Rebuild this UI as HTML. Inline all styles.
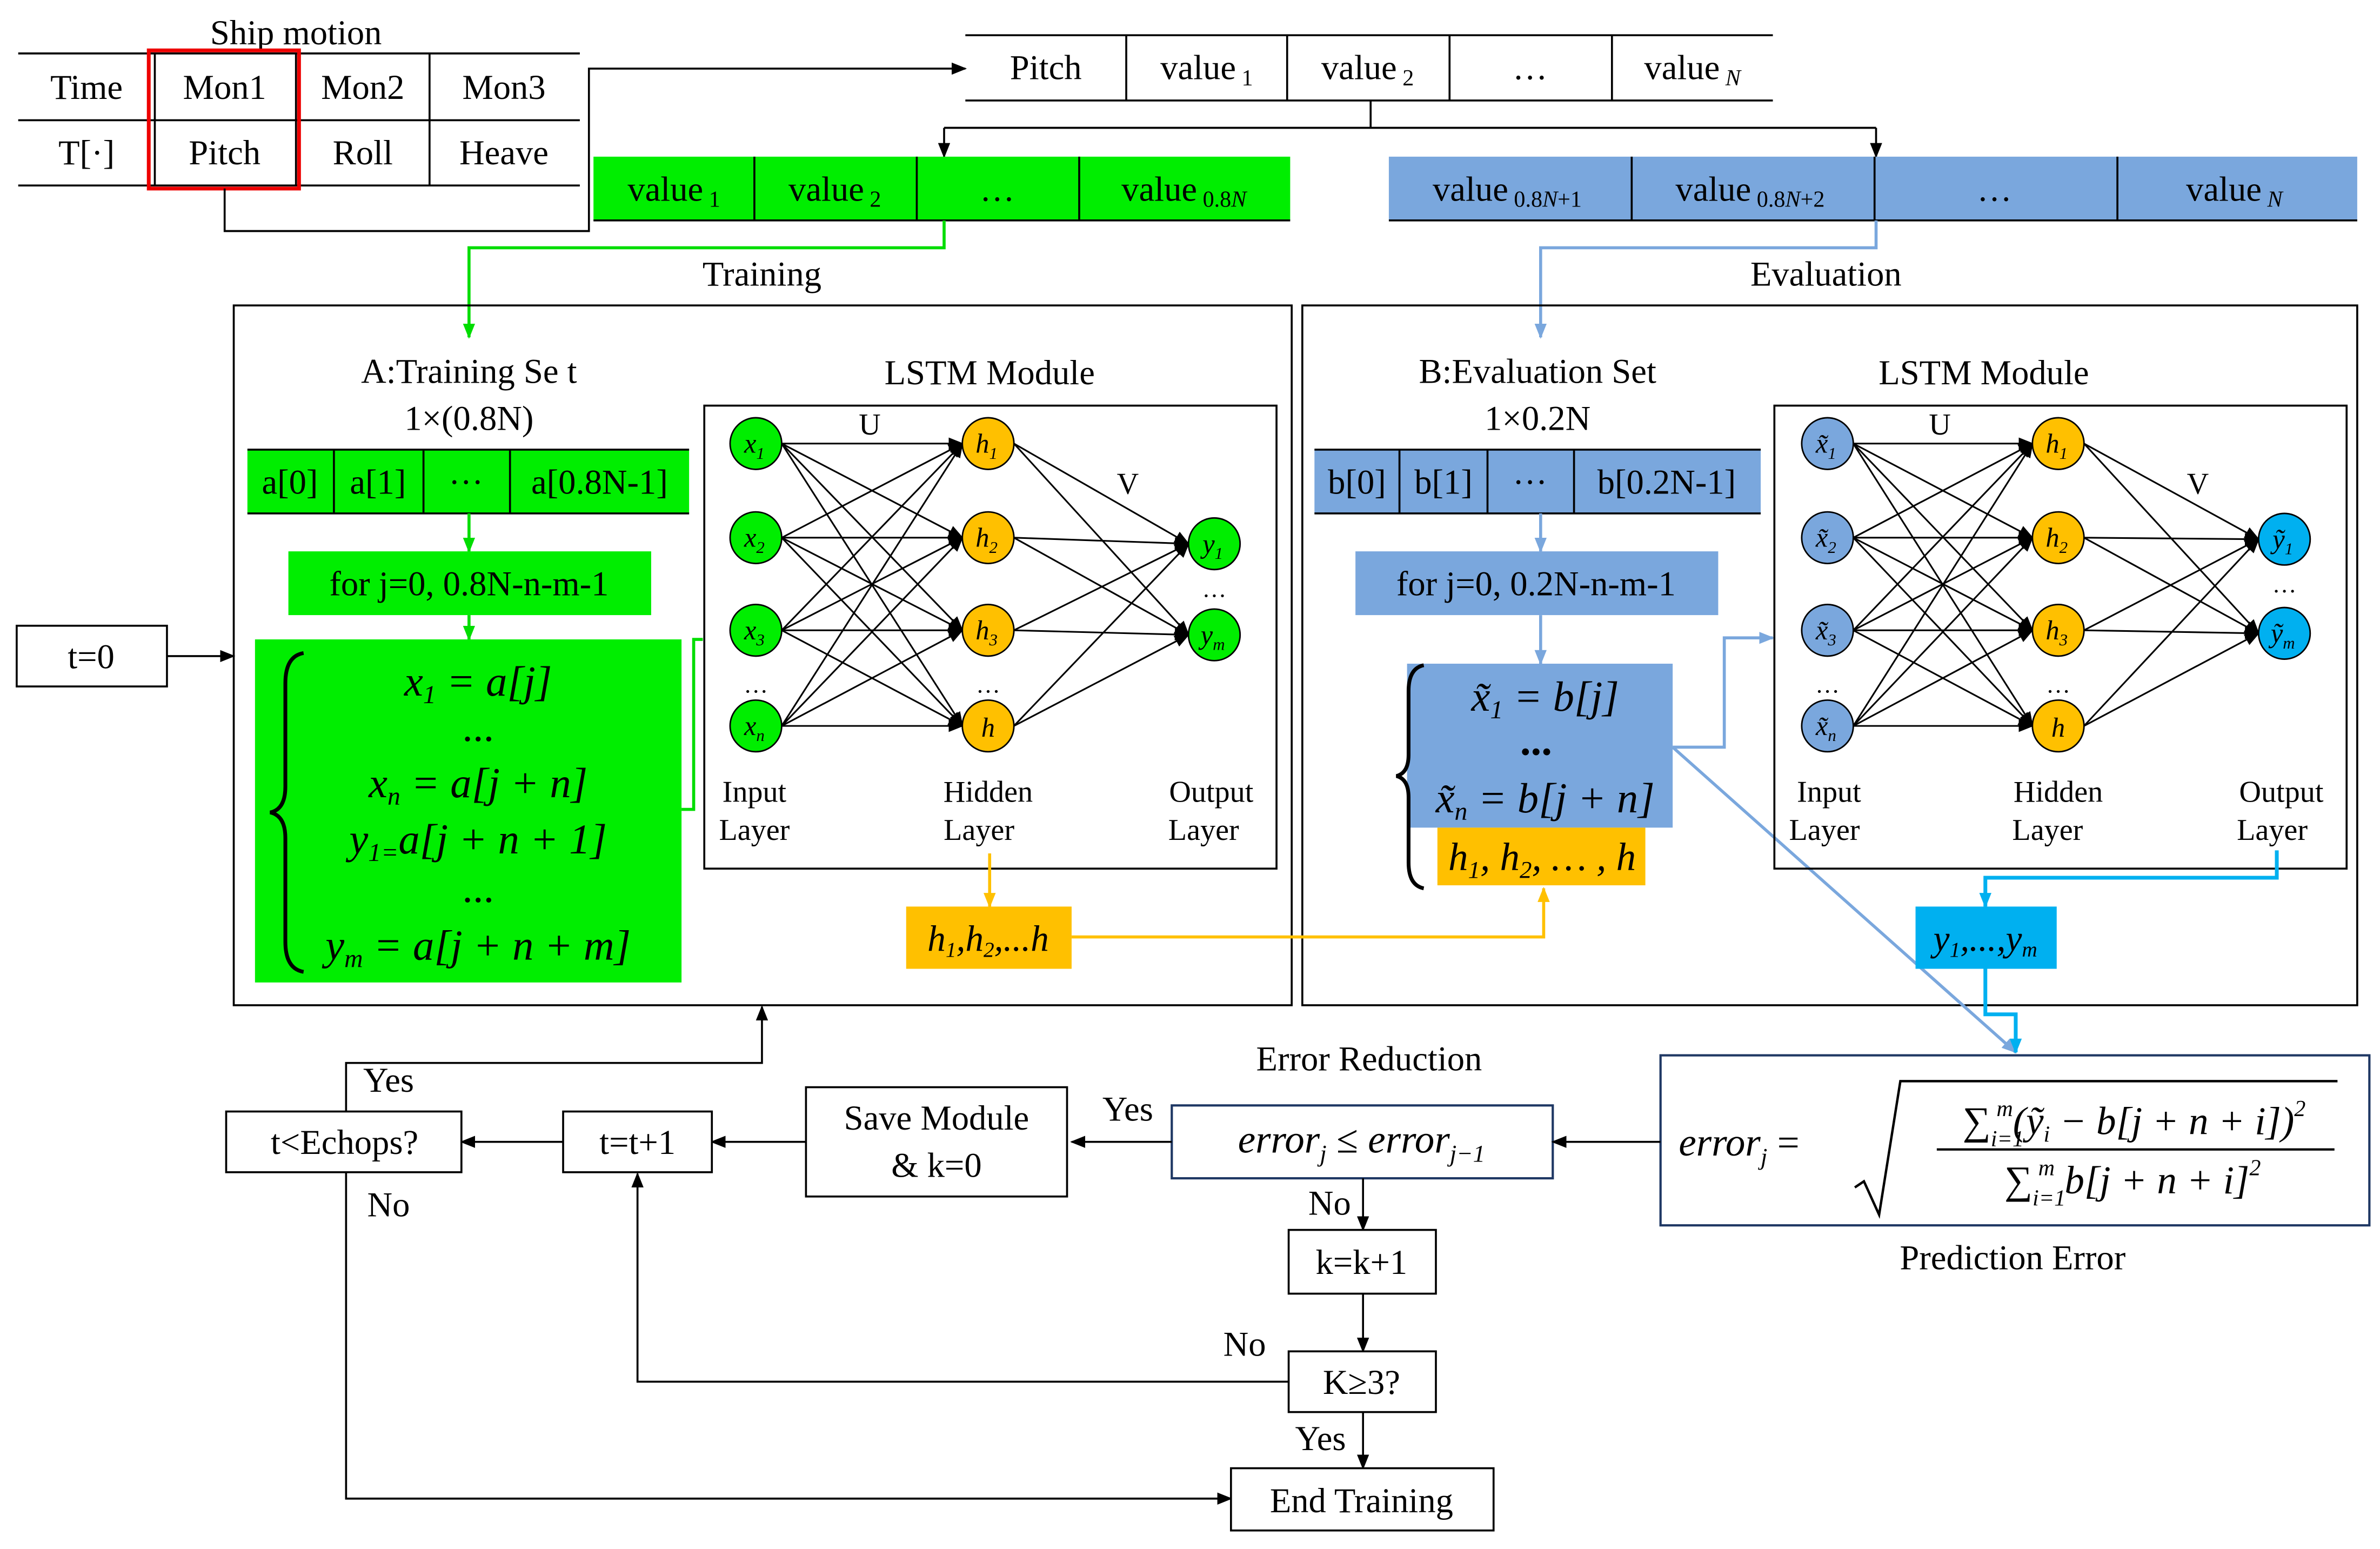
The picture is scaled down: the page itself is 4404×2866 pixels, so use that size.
<!DOCTYPE html>
<html><head><meta charset="utf-8"><style>
html,body{margin:0;padding:0;background:#fff}
svg{display:block}
text{font-family:"Liberation Serif",serif;fill:#000}
.m{font-style:italic}
</style></head><body>
<svg width="4404" height="2866" viewBox="0 0 1568 1020" xmlns="http://www.w3.org/2000/svg">
<defs>
<marker id="ak" markerWidth="10" markerHeight="8" refX="9" refY="4" orient="auto" markerUnits="userSpaceOnUse"><path d="M0,0 L10,4 L0,8 z" fill="#000"/></marker>
<marker id="ag" markerWidth="10" markerHeight="8" refX="9" refY="4" orient="auto" markerUnits="userSpaceOnUse"><path d="M0,0 L10,4 L0,8 z" fill="#00dd00"/></marker>
<marker id="ab" markerWidth="10" markerHeight="8" refX="9" refY="4" orient="auto" markerUnits="userSpaceOnUse"><path d="M0,0 L10,4 L0,8 z" fill="#7aa7dd"/></marker>
<marker id="ao" markerWidth="10" markerHeight="8" refX="9" refY="4" orient="auto" markerUnits="userSpaceOnUse"><path d="M0,0 L10,4 L0,8 z" fill="#ffc000"/></marker>
<marker id="ac" markerWidth="10" markerHeight="8" refX="9" refY="4" orient="auto" markerUnits="userSpaceOnUse"><path d="M0,0 L10,4 L0,8 z" fill="#00b0f0"/></marker>
</defs>
<g font-size="23">
<!-- Ship motion table -->
<text x="195" y="29" text-anchor="middle">Ship motion</text>
<g stroke="#000" stroke-width="1.3" fill="none">
<line x1="12" y1="35" x2="382" y2="35"/><line x1="12" y1="79" x2="382" y2="79"/><line x1="12" y1="122" x2="382" y2="122"/>
<line x1="102" y1="35" x2="102" y2="122"/><line x1="195" y1="35" x2="195" y2="122"/><line x1="283" y1="35" x2="283" y2="122"/>
</g>
<rect x="98" y="33" width="99" height="91" fill="none" stroke="#e00" stroke-width="2.5"/>
<text x="57" y="65" text-anchor="middle">Time</text><text x="148" y="65" text-anchor="middle">Mon1</text><text x="239" y="65" text-anchor="middle">Mon2</text><text x="332" y="65" text-anchor="middle">Mon3</text>
<text x="57" y="108" text-anchor="middle">T[·]</text><text x="148" y="108" text-anchor="middle">Pitch</text><text x="239" y="108" text-anchor="middle">Roll</text><text x="332" y="108" text-anchor="middle">Heave</text>
<polyline points="148,124 148,152 388,152 388,45 636,45" fill="none" stroke="#000" stroke-width="1.3" marker-end="url(#ak)"/>
<!-- pitch table -->
<g stroke="#000" stroke-width="1.3"><line x1="636" y1="23" x2="1168" y2="23"/><line x1="636" y1="66" x2="1168" y2="66"/>
<line x1="742" y1="23" x2="742" y2="66"/><line x1="848" y1="23" x2="848" y2="66"/><line x1="955" y1="23" x2="955" y2="66"/><line x1="1062" y1="23" x2="1062" y2="66"/></g>
<text x="689" y="52" text-anchor="middle">Pitch</text>
<text x="795" y="52" text-anchor="middle">value<tspan font-size="15" dy="4"> 1</tspan></text>
<text x="901" y="52" text-anchor="middle">value<tspan font-size="15" dy="4"> 2</tspan></text>
<text x="1008" y="52" text-anchor="middle">…</text>
<text x="1115" y="52" text-anchor="middle">value<tspan font-size="15" dy="4" class="m"> N</tspan></text>
<g fill="none" stroke="#000" stroke-width="1.3"><line x1="903" y1="66" x2="903" y2="84"/><line x1="622" y1="84" x2="1236" y2="84"/>
<line x1="622" y1="84" x2="622" y2="103" marker-end="url(#ak)"/><line x1="1236" y1="84" x2="1236" y2="103" marker-end="url(#ak)"/></g>
<!-- green bar -->
<rect x="391" y="103" width="459" height="42" fill="#00ee00"/>
<g stroke="#000" stroke-width="1.3"><line x1="391" y1="145" x2="850" y2="145"/><line x1="497" y1="103" x2="497" y2="145"/><line x1="604" y1="103" x2="604" y2="145"/><line x1="711" y1="103" x2="711" y2="145"/></g>
<text x="444" y="132" text-anchor="middle">value<tspan font-size="15" dy="4"> 1</tspan></text>
<text x="550" y="132" text-anchor="middle">value<tspan font-size="15" dy="4"> 2</tspan></text>
<text x="657" y="132" text-anchor="middle">…</text>
<text x="780" y="132" text-anchor="middle">value<tspan font-size="15" dy="4"> 0.8<tspan class="m">N</tspan></tspan></text>
<!-- blue bar -->
<rect x="915" y="103" width="638" height="42" fill="#7aa7dd"/>
<g stroke="#000" stroke-width="1.3"><line x1="915" y1="145" x2="1553" y2="145"/><line x1="1075" y1="103" x2="1075" y2="145"/><line x1="1235" y1="103" x2="1235" y2="145"/><line x1="1395" y1="103" x2="1395" y2="145"/></g>
<text x="993" y="132" text-anchor="middle">value<tspan font-size="15" dy="4"> 0.8<tspan class="m">N</tspan>+1</tspan></text>
<text x="1153" y="132" text-anchor="middle">value<tspan font-size="15" dy="4"> 0.8<tspan class="m">N</tspan>+2</tspan></text>
<text x="1314" y="132" text-anchor="middle">…</text>
<text x="1472" y="132" text-anchor="middle">value<tspan font-size="15" dy="4" class="m"> N</tspan></text>
<polyline points="622,145 622,163 309,163 309,222" fill="none" stroke="#00dd00" stroke-width="2" marker-end="url(#ag)"/>
<polyline points="1236,145 1236,163 1015,163 1015,222" fill="none" stroke="#7aa7dd" stroke-width="2" marker-end="url(#ab)"/>
<text x="502" y="188" text-anchor="middle">Training</text>
<text x="1203" y="188" text-anchor="middle">Evaluation</text>
<!-- big boxes -->
<rect x="154" y="201" width="697" height="461" fill="none" stroke="#000" stroke-width="1.3"/>
<rect x="858" y="201" width="695" height="461" fill="none" stroke="#000" stroke-width="1.3"/>
<!-- left content -->
<text x="309" y="252" text-anchor="middle">A:Training Se t</text>
<text x="309" y="283" text-anchor="middle">1×(0.8N)</text>
<rect x="163" y="296" width="291" height="42" fill="#00ee00"/>
<g stroke="#000" stroke-width="1.3"><line x1="163" y1="296" x2="454" y2="296"/><line x1="163" y1="338" x2="454" y2="338"/><line x1="220" y1="296" x2="220" y2="338"/><line x1="279" y1="296" x2="279" y2="338"/><line x1="336" y1="296" x2="336" y2="338"/></g>
<text x="191" y="325" text-anchor="middle">a[0]</text><text x="249" y="325" text-anchor="middle">a[1]</text><text x="307" y="325" text-anchor="middle">···</text><text x="395" y="325" text-anchor="middle">a[0.8N-1]</text>
<line x1="309" y1="338" x2="309" y2="363" stroke="#00dd00" stroke-width="2" marker-end="url(#ag)"/>
<rect x="190" y="363" width="239" height="42" fill="#00ee00"/>
<text x="309" y="392" text-anchor="middle">for j=0, 0.8N-n-m-1</text>
<line x1="309" y1="405" x2="309" y2="421" stroke="#00dd00" stroke-width="2" marker-end="url(#ag)"/>
<rect x="168" y="421" width="281" height="226" fill="#00ee00"/>
<path d="M200,430 Q188,432 188,450 L188,518 Q188,533 178,535 Q188,537 188,552 L188,620 Q188,638 200,640" fill="none" stroke="#000" stroke-width="2.5"/>
<g font-size="28" class="m" text-anchor="middle">
<text x="315" y="458">x<tspan font-size="17" dy="5">1</tspan><tspan dy="-5"> = a[j]</tspan></text>
<text x="315" y="488" font-style="normal">...</text>
<text x="315" y="525">x<tspan font-size="17" dy="5">n</tspan><tspan dy="-5"> = a[j + n]</tspan></text>
<text x="315" y="562">y<tspan font-size="17" dy="5">1=</tspan><tspan dy="-5">a[j + n + 1]</tspan></text>
<text x="315" y="594" font-style="normal">...</text>
<text x="315" y="632">y<tspan font-size="17" dy="5">m</tspan><tspan dy="-5"> = a[j + n + m]</tspan></text>
</g>
<polyline points="449,533 457,533 457,421 463,421" fill="none" stroke="#00dd00" stroke-width="2"/>
<!-- LSTM left -->
<text x="652" y="253" text-anchor="middle">LSTM Module</text>
<rect x="464" y="267" width="377" height="305" fill="none" stroke="#000" stroke-width="1.3"/>
<g stroke="#000" stroke-width="1.1" marker-end="url(#ak)">
<line x1="515" y1="292" x2="634" y2="292"/><line x1="515" y1="292" x2="634" y2="354"/><line x1="515" y1="292" x2="634" y2="415"/><line x1="515" y1="292" x2="634" y2="478"/>
<line x1="515" y1="354" x2="634" y2="292"/><line x1="515" y1="354" x2="634" y2="354"/><line x1="515" y1="354" x2="634" y2="415"/><line x1="515" y1="354" x2="634" y2="478"/>
<line x1="515" y1="415" x2="634" y2="292"/><line x1="515" y1="415" x2="634" y2="354"/><line x1="515" y1="415" x2="634" y2="415"/><line x1="515" y1="415" x2="634" y2="478"/>
<line x1="515" y1="478" x2="634" y2="292"/><line x1="515" y1="478" x2="634" y2="354"/><line x1="515" y1="478" x2="634" y2="415"/><line x1="515" y1="478" x2="634" y2="478"/>
<line x1="668" y1="292" x2="783" y2="358"/><line x1="668" y1="292" x2="783" y2="418"/>
<line x1="668" y1="354" x2="783" y2="358"/><line x1="668" y1="354" x2="783" y2="418"/>
<line x1="668" y1="415" x2="783" y2="358"/><line x1="668" y1="415" x2="783" y2="418"/>
<line x1="668" y1="478" x2="783" y2="358"/><line x1="668" y1="478" x2="783" y2="418"/>
</g>
<g stroke="#000" stroke-width="1">
<circle cx="498" cy="292" r="17" fill="#00ee00"/><circle cx="498" cy="354" r="17" fill="#00ee00"/><circle cx="498" cy="415" r="17" fill="#00ee00"/><circle cx="498" cy="478" r="17" fill="#00ee00"/>
<circle cx="651" cy="292" r="17" fill="#ffc000"/><circle cx="651" cy="354" r="17" fill="#ffc000"/><circle cx="651" cy="415" r="17" fill="#ffc000"/><circle cx="651" cy="478" r="17" fill="#ffc000"/>
<circle cx="800" cy="358" r="17" fill="#00ee00"/><circle cx="800" cy="418" r="17" fill="#00ee00"/>
</g>
<g font-size="18" class="m" text-anchor="middle">
<text x="497" y="298">x<tspan font-size="11" dy="4">1</tspan></text><text x="497" y="360">x<tspan font-size="11" dy="4">2</tspan></text><text x="497" y="421">x<tspan font-size="11" dy="4">3</tspan></text><text x="497" y="484">x<tspan font-size="11" dy="4">n</tspan></text>
<text x="650" y="298">h<tspan font-size="11" dy="4">1</tspan></text><text x="650" y="360">h<tspan font-size="11" dy="4">2</tspan></text><text x="650" y="421">h<tspan font-size="11" dy="4">3</tspan></text><text x="651" y="485">h</text>
<text x="799" y="364">y<tspan font-size="11" dy="4">1</tspan></text><text x="799" y="424">y<tspan font-size="11" dy="4">m</tspan></text>
</g>
<g font-size="16"><text x="498" y="456" text-anchor="middle">…</text><text x="651" y="456" text-anchor="middle">…</text><text x="800" y="393" text-anchor="middle">…</text></g>
<text x="573" y="286" font-size="20" text-anchor="middle">U</text><text x="743" y="325" font-size="20" text-anchor="middle">V</text>
<g font-size="20" text-anchor="middle"><text x="497" y="528">Input</text><text x="497" y="553">Layer</text><text x="651" y="528">Hidden</text><text x="645" y="553">Layer</text><text x="798" y="528">Output</text><text x="793" y="553">Layer</text></g>
<line x1="652" y1="562" x2="652" y2="597" stroke="#ffc000" stroke-width="2" marker-end="url(#ao)"/>
<rect x="597" y="597" width="109" height="41" fill="#ffc000"/>
<text x="651" y="626" font-size="24" class="m" text-anchor="middle">h<tspan font-size="14" dy="4">1</tspan><tspan dy="-4">,h</tspan><tspan font-size="14" dy="4">2</tspan><tspan dy="-4">,...h</tspan></text>
<polyline points="706,617 1017,617 1017,585" fill="none" stroke="#ffc000" stroke-width="2" marker-end="url(#ao)"/>
<!-- right content -->
<text x="1013" y="252" text-anchor="middle">B:Evaluation  Set</text>
<text x="1013" y="283" text-anchor="middle">1×0.2N</text>
<rect x="866" y="296" width="294" height="42" fill="#7aa7dd"/>
<g stroke="#000" stroke-width="1.3"><line x1="866" y1="296" x2="1160" y2="296"/><line x1="866" y1="338" x2="1160" y2="338"/><line x1="922" y1="296" x2="922" y2="338"/><line x1="980" y1="296" x2="980" y2="338"/><line x1="1037" y1="296" x2="1037" y2="338"/></g>
<text x="894" y="325" text-anchor="middle">b[0]</text><text x="951" y="325" text-anchor="middle">b[1]</text><text x="1008" y="325" text-anchor="middle">···</text><text x="1098" y="325" text-anchor="middle">b[0.2N-1]</text>
<line x1="1015" y1="338" x2="1015" y2="363" stroke="#7aa7dd" stroke-width="2" marker-end="url(#ab)"/>
<rect x="893" y="363" width="239" height="42" fill="#7aa7dd"/>
<text x="1012" y="392" text-anchor="middle">for j=0, 0.2N-n-m-1</text>
<line x1="1015" y1="405" x2="1015" y2="437" stroke="#7aa7dd" stroke-width="2" marker-end="url(#ab)"/>
<rect x="927" y="437" width="175" height="108" fill="#7aa7dd"/>
<rect x="947" y="545" width="137" height="38" fill="#ffc000"/>
<path d="M938,438 Q928,440 928,455 L928,497 Q928,509 920,511 Q928,513 928,525 L928,568 Q928,583 938,585" fill="none" stroke="#000" stroke-width="2.5"/>
<g font-size="28" class="m" text-anchor="middle">
<text x="1018" y="468">x̃<tspan font-size="17" dy="5">1</tspan><tspan dy="-5"> = b[j]</tspan></text>
<text x="1012" y="497" font-style="normal" font-weight="bold">...</text>
<text x="1018" y="535">x̃<tspan font-size="17" dy="5">n</tspan><tspan dy="-5"> = b[j + n]</tspan></text>
<text x="1016" y="573" font-size="26">h<tspan font-size="16" dy="5">1</tspan><tspan dy="-5">, h</tspan><tspan font-size="16" dy="5">2</tspan><tspan dy="-5">, … , h</tspan></text>
</g>
<polyline points="1102,492 1136,492 1136,420 1168,420" fill="none" stroke="#7aa7dd" stroke-width="2" marker-end="url(#ab)"/>
<line x1="1102" y1="492" x2="1328" y2="693" stroke="#7aa7dd" stroke-width="2" marker-end="url(#ab)"/>
<!-- LSTM right -->
<text x="1307" y="253" text-anchor="middle">LSTM Module</text>
<rect x="1169" y="267" width="377" height="305" fill="none" stroke="#000" stroke-width="1.3"/>
<g stroke="#000" stroke-width="1.1" marker-end="url(#ak)">
<line x1="1221" y1="292" x2="1339" y2="292"/><line x1="1221" y1="292" x2="1339" y2="354"/><line x1="1221" y1="292" x2="1339" y2="415"/><line x1="1221" y1="292" x2="1339" y2="478"/>
<line x1="1221" y1="354" x2="1339" y2="292"/><line x1="1221" y1="354" x2="1339" y2="354"/><line x1="1221" y1="354" x2="1339" y2="415"/><line x1="1221" y1="354" x2="1339" y2="478"/>
<line x1="1221" y1="415" x2="1339" y2="292"/><line x1="1221" y1="415" x2="1339" y2="354"/><line x1="1221" y1="415" x2="1339" y2="415"/><line x1="1221" y1="415" x2="1339" y2="478"/>
<line x1="1221" y1="478" x2="1339" y2="292"/><line x1="1221" y1="478" x2="1339" y2="354"/><line x1="1221" y1="478" x2="1339" y2="415"/><line x1="1221" y1="478" x2="1339" y2="478"/>
<line x1="1373" y1="292" x2="1488" y2="355"/><line x1="1373" y1="292" x2="1488" y2="417"/>
<line x1="1373" y1="354" x2="1488" y2="355"/><line x1="1373" y1="354" x2="1488" y2="417"/>
<line x1="1373" y1="415" x2="1488" y2="355"/><line x1="1373" y1="415" x2="1488" y2="417"/>
<line x1="1373" y1="478" x2="1488" y2="355"/><line x1="1373" y1="478" x2="1488" y2="417"/>
</g>
<g stroke="#000" stroke-width="1">
<circle cx="1204" cy="292" r="17" fill="#7aa7dd"/><circle cx="1204" cy="354" r="17" fill="#7aa7dd"/><circle cx="1204" cy="415" r="17" fill="#7aa7dd"/><circle cx="1204" cy="478" r="17" fill="#7aa7dd"/>
<circle cx="1356" cy="292" r="17" fill="#ffc000"/><circle cx="1356" cy="354" r="17" fill="#ffc000"/><circle cx="1356" cy="415" r="17" fill="#ffc000"/><circle cx="1356" cy="478" r="17" fill="#ffc000"/>
<circle cx="1505" cy="355" r="17" fill="#00b0f0"/><circle cx="1505" cy="417" r="17" fill="#00b0f0"/>
</g>
<g font-size="18" class="m" text-anchor="middle">
<text x="1203" y="298">x̃<tspan font-size="11" dy="4">1</tspan></text><text x="1203" y="360">x̃<tspan font-size="11" dy="4">2</tspan></text><text x="1203" y="421">x̃<tspan font-size="11" dy="4">3</tspan></text><text x="1203" y="484">x̃<tspan font-size="11" dy="4">n</tspan></text>
<text x="1355" y="298">h<tspan font-size="11" dy="4">1</tspan></text><text x="1355" y="360">h<tspan font-size="11" dy="4">2</tspan></text><text x="1355" y="421">h<tspan font-size="11" dy="4">3</tspan></text><text x="1356" y="485">h</text>
<text x="1504" y="361">ỹ<tspan font-size="11" dy="4">1</tspan></text><text x="1504" y="423">ỹ<tspan font-size="11" dy="4">m</tspan></text>
</g>
<g font-size="16"><text x="1204" y="456" text-anchor="middle">…</text><text x="1356" y="456" text-anchor="middle">…</text><text x="1505" y="390" text-anchor="middle">…</text></g>
<text x="1278" y="286" font-size="20" text-anchor="middle">U</text><text x="1448" y="325" font-size="20" text-anchor="middle">V</text>
<g font-size="20" text-anchor="middle"><text x="1205" y="528">Input</text><text x="1202" y="553">Layer</text><text x="1356" y="528">Hidden</text><text x="1349" y="553">Layer</text><text x="1503" y="528">Output</text><text x="1497" y="553">Layer</text></g>
<polyline points="1500,560 1500,578 1308,578 1308,597" fill="none" stroke="#00b0f0" stroke-width="2.5" marker-end="url(#ac)"/>
<rect x="1262" y="597" width="93" height="41" fill="#00b0f0"/>
<text x="1308" y="626" font-size="24" class="m" text-anchor="middle">y<tspan font-size="14" dy="4">1</tspan><tspan dy="-4">,...,y</tspan><tspan font-size="14" dy="4">m</tspan></text>
<polyline points="1308,638 1308,668 1328,668 1328,693" fill="none" stroke="#00b0f0" stroke-width="2.5" marker-end="url(#ac)"/>
<!-- error box -->
<rect x="1094" y="695" width="467" height="112" fill="none" stroke="#1f3864" stroke-width="1.5"/>
<text x="1106" y="761" font-size="26" class="m">error<tspan font-size="16" dy="6">j</tspan><tspan dy="-6" font-style="normal"> =</tspan></text>
<path d="M1222,782 L1228,778 L1238,800 L1252,712 L1540,712" fill="none" stroke="#000" stroke-width="1.6"/>
<line x1="1276" y1="757" x2="1538" y2="757" stroke="#000" stroke-width="1.5"/>
<text x="1406" y="747" font-size="26" class="m" text-anchor="middle"><tspan font-style="normal">∑</tspan><tspan font-size="15" dy="8">i=1</tspan><tspan font-size="15" dx="-18" dy="-20">m</tspan><tspan dy="12">(ỹ</tspan><tspan font-size="15" dy="5">i</tspan><tspan dy="-5"> − b[j + n + i])</tspan><tspan font-size="15" dy="-12">2</tspan></text>
<text x="1405" y="786" font-size="26" class="m" text-anchor="middle"><tspan font-style="normal">∑</tspan><tspan font-size="15" dy="8">i=1</tspan><tspan font-size="15" dx="-18" dy="-20">m</tspan><tspan dy="12"> b[j + n + i]</tspan><tspan font-size="15" dy="-12">2</tspan></text>
<text x="1326" y="836" text-anchor="middle">Prediction Error</text>
<!-- error reduction -->
<text x="902" y="705" text-anchor="middle">Error Reduction</text>
<rect x="772" y="728" width="251" height="48" fill="none" stroke="#1f3864" stroke-width="1.5"/>
<text x="897" y="759" font-size="26" class="m" text-anchor="middle">error<tspan font-size="16" dy="6">j</tspan><tspan dy="-6" font-style="normal"> ≤ </tspan>error<tspan font-size="16" dy="6">j−1</tspan></text>
<g fill="none" stroke="#000" stroke-width="1.3">
<line x1="1094" y1="752" x2="1023" y2="752" marker-end="url(#ak)"/>
<line x1="772" y1="752" x2="706" y2="752" marker-end="url(#ak)"/>
<line x1="531" y1="752" x2="469" y2="752" marker-end="url(#ak)"/>
<line x1="371" y1="752" x2="304" y2="752" marker-end="url(#ak)"/>
<polyline points="228,732 228,700 502,700 502,663" marker-end="url(#ak)"/>
<polyline points="228,772 228,987 811,987" marker-end="url(#ak)"/>
<line x1="898" y1="776" x2="898" y2="810" marker-end="url(#ak)"/>
<line x1="898" y1="852" x2="898" y2="890" marker-end="url(#ak)"/>
<line x1="898" y1="930" x2="898" y2="967" marker-end="url(#ak)"/>
<polyline points="849,910 420,910 420,773" marker-end="url(#ak)"/>
<line x1="110" y1="432" x2="154" y2="432" marker-end="url(#ak)"/>
</g>
<g fill="#fff" stroke="#000" stroke-width="1.3">
<rect x="531" y="716" width="172" height="72"/>
<rect x="371" y="732" width="98" height="40"/>
<rect x="149" y="732" width="155" height="40"/>
<rect x="849" y="810" width="97" height="42"/>
<rect x="849" y="890" width="97" height="40"/>
<rect x="811" y="967" width="173" height="41"/>
<rect x="11" y="412" width="99" height="40"/>
</g>
<text x="743" y="738" text-anchor="middle">Yes</text>
<text x="617" y="744" text-anchor="middle">Save Module</text>
<text x="617" y="775" text-anchor="middle">&amp; k=0</text>
<text x="420" y="760" text-anchor="middle">t=t+1</text>
<text x="227" y="760" text-anchor="middle">t&lt;Echops?</text>
<text x="256" y="719" text-anchor="middle">Yes</text>
<text x="256" y="801" text-anchor="middle">No</text>
<text x="876" y="800" text-anchor="middle">No</text>
<text x="897" y="839" text-anchor="middle">k=k+1</text>
<text x="820" y="893" text-anchor="middle">No</text>
<text x="897" y="918" text-anchor="middle">K≥3?</text>
<text x="870" y="955" text-anchor="middle">Yes</text>
<text x="897" y="996" text-anchor="middle">End Training</text>
<text x="60" y="440" text-anchor="middle">t=0</text>
</g>
</svg>
</body></html>
